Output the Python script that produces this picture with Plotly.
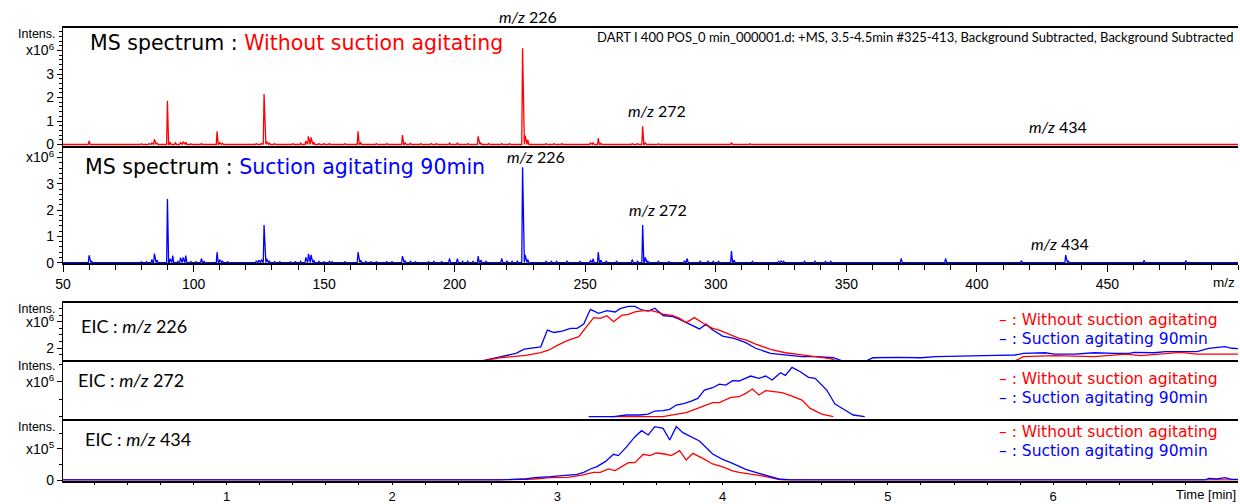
import plotly.graph_objects as go
import numpy as np

# ---------------- DATA ----------------
# MS spectrum, without suction agitating (intensity in 10^6 counts)
mz_red = [60, 80, 83, 84, 85, 86, 90, 91, 93, 95, 96, 97, 99, 103, 109, 110, 111, 124, 126, 127, 128, 129,
          131, 138, 141, 143, 144, 145, 146, 148, 150, 152, 158, 163, 164, 170, 174, 180, 181, 183, 187,
          191, 193, 198, 201, 205, 209, 210, 213, 218, 221, 226, 227, 228, 235, 238, 241, 252, 253, 255,
          256, 268, 270, 272, 273, 278, 284, 288, 290, 295, 306, 313, 327, 341, 375, 392, 423, 441]
int_red = [0.15, 0.03, 0.04, 0.06, 0.22, 0.05, 1.86, 0.10, 0.07, 0.08, 0.12, 0.10, 0.03, 0.04, 0.56, 0.08,
           0.05, 0.04, 0.05, 2.15, 0.12, 0.06, 0.04, 0.04, 0.06, 0.15, 0.35, 0.30, 0.10, 0.04, 0.04, 0.04,
           0.04, 0.56, 0.07, 0.04, 0.04, 0.40, 0.08, 0.05, 0.04, 0.04, 0.04, 0.06, 0.06, 0.04, 0.35, 0.06,
           0.04, 0.04, 0.04, 4.10, 0.38, 0.20, 0.04, 0.04, 0.04, 0.06, 0.08, 0.27, 0.05, 0.04, 0.04, 0.78,
           0.08, 0.03, 0.03, 0.03, 0.03, 0.03, 0.08, 0.03, 0.03, 0.03, 0.03, 0.03, 0.03, 0.03]

# MS spectrum, suction agitating 90 min (intensity in 10^6 counts)
mz_blue = [60, 61, 80, 82, 84, 85, 86, 90, 91, 92, 94, 95, 96, 97, 99, 101, 103, 104, 109, 110, 111, 113,
           124, 125, 126, 127, 128, 129, 131, 133, 137, 139, 141, 143, 144, 145, 146, 148, 150, 152, 153,
           158, 163, 164, 166, 168, 170, 174, 176, 180, 181, 183, 185, 190, 192, 195, 198, 201, 203, 205,
           207, 209, 210, 212, 218, 220, 222, 224, 226, 227, 228, 235, 237, 239, 243, 248, 252, 253, 255,
           256, 258, 262, 268, 270, 272, 273, 274, 278, 282, 288, 289, 294, 297, 299, 301, 306, 307, 314,
           324, 325, 326, 334, 338, 342, 344, 371, 388, 417, 434, 435, 464, 480]
int_blue = [0.28, 0.05, 0.03, 0.04, 0.12, 0.35, 0.10, 2.42, 0.15, 0.27, 0.05, 0.19, 0.20, 0.27, 0.04, 0.04,
            0.16, 0.05, 0.40, 0.12, 0.07, 0.04, 0.06, 0.10, 0.12, 1.43, 0.15, 0.06, 0.04, 0.04, 0.03, 0.04,
            0.05, 0.20, 0.34, 0.30, 0.10, 0.05, 0.04, 0.05, 0.04, 0.04, 0.40, 0.10, 0.05, 0.04, 0.04, 0.04,
            0.04, 0.25, 0.08, 0.05, 0.04, 0.04, 0.05, 0.04, 0.16, 0.15, 0.05, 0.06, 0.05, 0.25, 0.10, 0.05,
            0.16, 0.07, 0.05, 0.06, 3.63, 0.30, 0.12, 0.05, 0.05, 0.05, 0.06, 0.05, 0.08, 0.15, 0.40, 0.10,
            0.06, 0.05, 0.12, 0.06, 1.43, 0.20, 0.05, 0.05, 0.04, 0.08, 0.16, 0.06, 0.06, 0.05, 0.05, 0.44,
            0.10, 0.05, 0.05, 0.06, 0.05, 0.05, 0.06, 0.05, 0.05, 0.16, 0.16, 0.08, 0.29, 0.06, 0.09, 0.08]

# EIC m/z 226 (10^6 counts)
t226_blue = [2.50, 2.65, 2.69, 2.75, 2.80, 2.90, 2.94, 2.98, 3.03, 3.08, 3.12, 3.16, 3.20, 3.25, 3.30, 3.35,
             3.38, 3.43, 3.47, 3.51, 3.55, 3.59, 3.64, 3.70, 3.74, 3.79, 3.86, 3.90, 3.94, 4.00, 4.07, 4.14,
             4.20, 4.29, 4.38, 4.48, 4.57, 4.67, 4.75, 4.85, 4.91, 5.05, 5.20, 5.29, 5.44, 5.53, 5.65, 5.77,
             5.82, 5.95, 6.01, 6.13, 6.25, 6.37, 6.46, 6.49, 6.61, 6.68, 6.77, 6.87, 6.94, 6.99, 7.04, 7.08, 7.12]
i226_blue = [0.90, 1.34, 1.44, 1.59, 1.92, 2.09, 3.36, 3.18, 3.29, 3.49, 3.49, 3.82, 4.94, 4.64, 4.84, 4.74,
             4.99, 5.16, 5.16, 4.89, 4.80, 5.03, 4.47, 4.38, 4.18, 3.87, 3.45, 3.81, 3.37, 2.91, 2.74, 2.41,
             1.98, 1.59, 1.47, 1.34, 1.34, 1.26, 0.90, 0.90, 1.26, 1.29, 1.26, 1.34, 1.39, 1.39, 1.44, 1.47,
             1.59, 1.64, 1.54, 1.54, 1.64, 1.59, 1.59, 1.67, 1.64, 1.72, 1.72, 1.72, 1.98, 2.06, 2.11, 1.98, 1.95]
t226_red = [2.50, 2.65, 2.73, 2.81, 2.90, 2.95, 3.00, 3.06, 3.13, 3.18, 3.22, 3.26, 3.30, 3.34, 3.39, 3.43,
            3.47, 3.52, 3.57, 3.60, 3.64, 3.70, 3.74, 3.78, 3.83, 3.88, 3.94, 3.98, 4.05, 4.10, 4.14, 4.20,
            4.29, 4.38, 4.48, 4.57, 4.65, 4.72, 5.75, 5.82, 6.01, 6.25, 6.44, 6.53, 6.77, 6.87, 7.06, 7.12]
i226_red = [0.90, 1.26, 1.34, 1.44, 1.64, 1.85, 2.20, 2.56, 2.86, 3.67, 4.31, 4.25, 4.46, 4.00, 4.48, 4.55,
            4.74, 4.84, 4.84, 4.74, 4.58, 4.47, 4.25, 3.93, 4.31, 3.90, 3.49, 3.36, 2.99, 2.74, 2.61, 2.30,
            1.90, 1.64, 1.47, 1.34, 1.20, 0.90, 0.90, 1.34, 1.42, 1.34, 1.54, 1.42, 1.67, 1.54, 1.54, 1.54]

# EIC m/z 272 (10^6 counts)
t272_blue = [3.19, 3.34, 3.42, 3.50, 3.55, 3.59, 3.64, 3.68, 3.72, 3.77, 3.81, 3.85, 3.89, 3.94, 3.98, 4.02,
             4.06, 4.10, 4.17, 4.22, 4.26, 4.30, 4.35, 4.38, 4.42, 4.47, 4.52, 4.56, 4.63, 4.68, 4.74, 4.79, 4.86]
i272_blue = [0.0, 0.0, 0.048, 0.048, 0.076, 0.162, 0.171, 0.21, 0.333, 0.381, 0.448, 0.524, 0.762, 0.829,
             0.933, 0.905, 1.029, 1.02, 1.162, 1.095, 1.162, 1.048, 1.257, 1.181, 1.41, 1.286, 1.124, 1.095,
             0.762, 0.362, 0.19, 0.048, 0.0]
t272_red = [3.32, 3.64, 3.68, 3.72, 3.78, 3.82, 3.86, 3.90, 3.94, 3.98, 4.05, 4.10, 4.14, 4.18, 4.22, 4.26,
            4.31, 4.36, 4.42, 4.48, 4.53, 4.60, 4.67]
i272_red = [0.0, 0.0, 0.038, 0.076, 0.114, 0.19, 0.267, 0.333, 0.40, 0.40, 0.552, 0.571, 0.667, 0.79, 0.619,
            0.743, 0.714, 0.686, 0.59, 0.476, 0.238, 0.076, 0.0]

# EIC m/z 434 (10^5 counts)
t434_blue = [0.01, 2.65, 2.81, 2.86, 2.96, 3.06, 3.12, 3.16, 3.20, 3.24, 3.29, 3.34, 3.37, 3.42, 3.47, 3.51,
             3.55, 3.59, 3.64, 3.68, 3.72, 3.76, 3.81, 3.86, 3.94, 4.00, 4.05, 4.10, 4.14, 4.22, 4.29, 4.34,
             4.41, 6.92, 6.94, 6.99, 7.04, 7.08, 7.12]
i434_blue = [0, 0, 0.16, 0.37, 0.53, 0.75, 0.91, 1.23, 1.76, 2.13, 2.93, 4.10, 3.89, 5.32, 6.92, 7.88, 7.19,
             8.52, 8.25, 6.39, 8.52, 7.56, 6.92, 6.23, 4.15, 3.30, 2.77, 2.20, 1.70, 1.06, 0.53, 0.16, 0, 0,
             0.27, 0.16, 0.37, 0.10, 0.10]
t434_red = [0.01, 2.65, 2.86, 2.96, 3.06, 3.14, 3.22, 3.26, 3.31, 3.35, 3.43, 3.47, 3.52, 3.56, 3.60, 3.65,
            3.69, 3.74, 3.78, 3.82, 3.88, 3.94, 4.00, 4.06, 4.10, 4.14, 4.22, 4.29, 4.36, 7.12]
i434_red = [0, 0, 0.16, 0.37, 0.43, 0.75, 1.23, 1.23, 1.76, 1.49, 2.77, 2.77, 4.10, 3.89, 4.31, 4.15, 3.89,
            4.69, 3.19, 4.26, 3.46, 2.56, 2.10, 1.45, 1.20, 1.06, 0.75, 0.37, 0, 0]

mz_ticks = [50, 100, 150, 200, 250, 300, 350, 400, 450]
time_ticks = [1, 2, 3, 4, 5, 6]

# ---------------- STYLE / LAYOUT HELPERS ----------------
W, H = 1240, 504
RED = "#ff0000"
BLUE = "#0000ff"
def X(px): return px / W
def Y(py): return 1 - py / H

def stick_profile(mz, inten, lo=50, hi=500):
    xs, ys = [lo], [0]
    for m, h in zip(mz, inten):
        xs += [m - 0.3, m, m + 0.45]
        ys += [0, h, 0]
    xs.append(hi); ys.append(0)
    return xs, ys

fig = go.Figure()
xr, yr = stick_profile(mz_red, int_red)
xb, yb = stick_profile(mz_blue, int_blue)
fig.add_trace(go.Scatter(x=xr, y=yr, mode="lines", line=dict(color=RED, width=1.3), xaxis="x", yaxis="y"))
fig.add_trace(go.Scatter(x=xb, y=yb, mode="lines", line=dict(color=BLUE, width=1.3), xaxis="x2", yaxis="y2"))

fig.add_trace(go.Scatter(x=t226_blue, y=i226_blue, mode="lines", line=dict(color=BLUE, width=1.3), xaxis="x3", yaxis="y3"))
fig.add_trace(go.Scatter(x=t226_red, y=i226_red, mode="lines", line=dict(color=RED, width=1.3), xaxis="x3", yaxis="y3"))
fig.add_trace(go.Scatter(x=t272_red, y=i272_red, mode="lines", line=dict(color=RED, width=1.3), xaxis="x4", yaxis="y4"))
fig.add_trace(go.Scatter(x=t272_blue, y=i272_blue, mode="lines", line=dict(color=BLUE, width=1.3), xaxis="x4", yaxis="y4"))
fig.add_trace(go.Scatter(x=t434_red, y=i434_red, mode="lines", line=dict(color=RED, width=1.3), xaxis="x5", yaxis="y5"))
fig.add_trace(go.Scatter(x=t434_blue, y=i434_blue, mode="lines", line=dict(color=BLUE, width=1.3), xaxis="x5", yaxis="y5"))

TICKFONT = dict(family="Liberation Sans, Arial, sans-serif", size=14, color="black")
xdom = [X(63), X(1238)]

def xaxis_box(anchor, rng, **kw):
    d = dict(domain=xdom, anchor=anchor, range=rng, showgrid=False, zeroline=False, automargin=False,
             showline=True, linecolor="black", linewidth=1.5, mirror=True,
             ticks="", showticklabels=False, tickfont=TICKFONT)
    d.update(kw)
    return d

def yaxis_box(anchor, dom, rng, tv, tt, minor_vals):
    return dict(domain=dom, anchor=anchor, range=rng, showgrid=False, zeroline=False, automargin=False,
                showline=True, linecolor="black", linewidth=1.2,
                ticks="outside", ticklen=5, tickcolor="black", tickwidth=1,
                tickmode="array", tickvals=tv, ticktext=tt, tickfont=TICKFONT,
                minor=dict(tickmode="array", tickvals=minor_vals, ticks="outside", ticklen=3,
                           tickcolor="black", tickwidth=1, showgrid=False))

minor_ms = [round(v, 1) for v in np.arange(0.2, 5.0, 0.2) if abs(v - round(v)) > 1e-6]
X6 = "x10<sup>6</sup>"
X5 = "x10<sup>5</sup>"
TIMEFONT = dict(family="Liberation Sans, Arial, sans-serif", size=13, color="black")

layout = dict(
    width=W, height=H, margin=dict(l=0, r=0, t=0, b=0, autoexpand=False),
    paper_bgcolor="white", plot_bgcolor="white", showlegend=False,
    xaxis=xaxis_box("y", [50, 500]),
    yaxis=yaxis_box("x", [Y(146), Y(28.3)], [-0.064, 4.945], [0, 1, 2, 3, 4], ["0", "1", "2", "3", X6], minor_ms),
    xaxis2=xaxis_box("y2", [50, 500], mirror=False, ticks="outside", ticklen=7, tickcolor="black",
                     showticklabels=True, tickmode="array", tickvals=mz_ticks,
                     ticktext=[str(v) for v in mz_ticks],
                     minor=dict(tickmode="array", tickvals=[v for v in range(60, 500, 10) if v % 50] + [500],
                                ticks="outside", ticklen=5, tickcolor="black")),
    yaxis2=yaxis_box("x2", [Y(263), Y(147)], [-0.011, 4.40], [0, 1, 2, 3, 4], ["0", "1", "2", "3", X6],
                     [v for v in minor_ms if v < 4.4]),
    xaxis3=xaxis_box("y3", [0.0097, 7.118]),
    yaxis3=yaxis_box("x3", [Y(360), Y(302.7)], [1.088, 5.445], [2, 4], ["2", X6], [1.5, 2.5, 3, 3.5, 4.5, 5]),
    xaxis4=xaxis_box("y4", [0.0097, 7.118]),
    yaxis4=yaxis_box("x4", [Y(419), Y(361.5)], [-0.066, 1.578], [1], [X6], [0, 0.5, 1.5]),
    xaxis5=xaxis_box("y5", [0.0097, 7.118], ticks="outside", ticklen=3, tickcolor="black",
                     showticklabels=True, tickmode="array", tickvals=time_ticks, tickfont=TIMEFONT,
                     ticktext=[str(v) for v in time_ticks],
                     minor=dict(tickmode="array",
                                tickvals=[round(v, 1) for v in np.arange(0.2, 7.1, 0.2) if abs(v - round(v)) > 1e-6],
                                ticks="outside", ticklen=3, tickcolor="black")),
    yaxis5=yaxis_box("x5", [Y(480.5), Y(420.5)], [-0.08, 9.5], [0, 5], ["0", X5], [2.5, 7.5]),
)
fig.update_layout(**layout)

# ---------------- TEXT ----------------
ann = []
def add(text, x, y, size, family, color="black", xanchor="left", yanchor="middle"):
    ann.append(dict(text=text, x=X(x), y=Y(y), xref="paper", yref="paper", showarrow=False,
                    xanchor=xanchor, yanchor=yanchor, font=dict(size=size, family=family, color=color)))

SANS = "DejaVu Sans, Verdana, sans-serif"
HUM = "Lato, Calibri, sans-serif"
ARIAL = "Liberation Sans, Arial, sans-serif"

for yy in (34, 309, 366, 426.7):
    add("Intens.", 58, yy, 12.5, ARIAL, xanchor="right")

add("MS spectrum : <span style='color:#ff0000'>Without suction agitating</span>", 88, 43, 20.5, SANS)
add("MS spectrum : <span style='color:#0000ff'>Suction agitating 90min</span>", 83, 167, 20.5, SANS)
add("DART I 400 POS_0 min_000001.d: +MS, 3.5-4.5min #325-413, Background Subtracted, Background Subtracted",
    1235, 37, 13, HUM, xanchor="right")

for txt, x, y in [("226", 497, 16), ("272", 626, 110), ("434", 1027, 126),
                  ("226", 505, 156.5), ("272", 627, 209), ("434", 1029, 243)]:
    add("<i>m/z</i> " + txt, x, y, 16, HUM)

add("m/z", 1237, 282, 13.5, ARIAL, xanchor="right")
add("Time [min]", 1238, 494, 13, ARIAL, xanchor="right")

for txt, x, y in [("226", 79, 326), ("272", 76, 380), ("434", 83, 439)]:
    add("EIC : <i>m/z</i> " + txt, x, y, 18, HUM)

for yr_, yb_ in [(320, 338.5), (379, 397.5), (431.5, 451)]:
    add("– : Without suction agitating", 997, yr_, 15.5, SANS, color=RED)
    add("– : Suction agitating 90min", 997, yb_, 15.5, SANS, color=BLUE)

fig.update_layout(annotations=ann)
fig.write_html("out.html", config={"displayModeBar": False},
               post_script="document.body.style.margin='0px';document.body.style.overflow='hidden';")
